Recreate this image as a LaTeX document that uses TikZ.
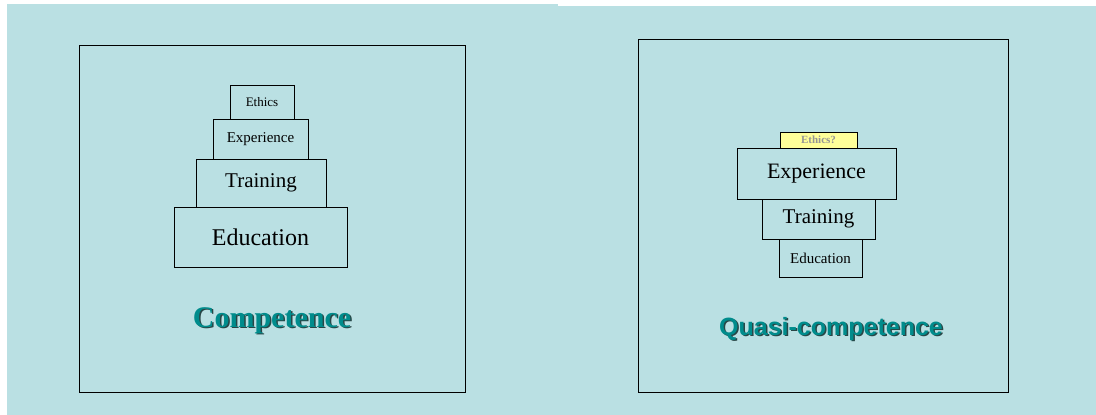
\documentclass[tikz,border=0pt]{standalone}
\usepackage{fontspec}
\setmainfont{Liberation Serif}
\newfontfamily\arialfont{Liberation Sans}
\definecolor{bgcyan}{RGB}{186,224,227}
\definecolor{tealtext}{RGB}{0,140,140}
\definecolor{shadowc}{RGB}{40,70,70}
\definecolor{ethyellow}{RGB}{255,255,153}
\definecolor{ethgrey}{RGB}{150,150,150}
\tikzset{
  panel/.style={fill=bgcyan, draw=none},
  frame/.style={draw=black, line width=0.8pt},
  layer/.style={draw=black, line width=0.8pt, inner sep=0pt, rectangle},
  fs/.style={font=\fontsize{#1}{#1}\selectfont},
}
\begin{document}
\begin{tikzpicture}[x=1pt,y=-1pt]
\useasboundingbox (0,0) rectangle (1096,415);
% background panels
\fill[panel] (7,4) rectangle (558,415);
\fill[panel] (558,6) rectangle (1096,415);
% frames
\draw[frame] (79,45) rectangle (465,392);
\draw[frame] (638,39) rectangle (1008,392);
% left pyramid
\node[layer, minimum width=64pt, minimum height=34pt, fs=13] (le1) at (262,102) {Ethics};
\node[layer, minimum width=95pt, minimum height=40pt, fs=15] (le2) at (260.5,139) {Experience};
\node[layer, minimum width=130pt, minimum height=48pt, fs=21] (le3) at (261,183) {Training};
\node[layer, minimum width=173pt, minimum height=60pt, fs=24] (le4) at (260.5,237) {Education};
% right pyramid
\node[layer, fill=ethyellow, minimum width=77pt, minimum height=16pt, text=ethgrey, font=\fontsize{11}{11}\selectfont\bfseries] (re1) at (818.5,140) {Ethics?};
\node[layer, minimum width=159pt, minimum height=51pt, fs=22] (re2) at (816.5,173.5) {Experience};
\node[layer, minimum width=113pt, minimum height=40pt, fs=21] (re3) at (818.5,219) {Training};
\node[layer, minimum width=83pt, minimum height=38pt, fs=15] (re4) at (820.5,258) {Education};
% labels with shadow
\node[anchor=base, text=shadowc, font=\fontsize{30}{30}\selectfont\bfseries] (compS) at (273.5,328.5) {Competence};
\node[anchor=base, text=tealtext, font=\fontsize{30}{30}\selectfont\bfseries] (comp) at (272,327) {Competence};
\node[anchor=base, text=shadowc, font=\fontsize{25}{25}\selectfont\arialfont\bfseries] (quasiS) at (832.5,336.5) {Quasi-competence};
\node[anchor=base, text=tealtext, font=\fontsize{25}{25}\selectfont\arialfont\bfseries] (quasi) at (831,335) {Quasi-competence};
\end{tikzpicture}
\end{document}
